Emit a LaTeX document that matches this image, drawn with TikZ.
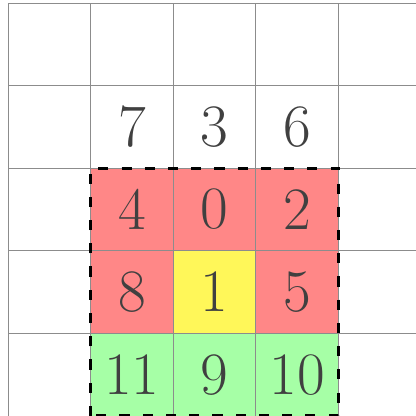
\documentclass[tikz,border=0pt]{standalone}
\usepackage{tikz}
\begin{document}
\begin{tikzpicture}[x=1cm,y=1cm,
  gridline/.style={draw=black!45, line width=0.3pt},
  cellred/.style={fill=red!47},
  cellyellow/.style={fill=yellow!65},
  cellgreen/.style={fill=green!35},
  num/.style={font=\huge, text=black!75, inner sep=0pt},
  frame/.style={draw=black, line width=1.1pt, dash pattern=on 3.5pt off 4.5pt}]
\useasboundingbox (-0.097,0) rectangle (4.933,5.036);
% fills
\fill[cellred] (1,2) rectangle (4,3);
\fill[cellred] (1,1) rectangle (2,2);
\fill[cellyellow] (2,1) rectangle (3,2);
\fill[cellred] (3,1) rectangle (4,2);
\fill[cellgreen] (1,0) rectangle (4,1);
% grid
\draw[gridline] (0,0) grid (5.2,5);
% numbers
\node[num] (n7) at (1.5,3.5) {7};
\node[num] (n3) at (2.5,3.5) {3};
\node[num] (n6) at (3.5,3.5) {6};
\node[num] (n4) at (1.5,2.5) {4};
\node[num] (n0) at (2.5,2.5) {0};
\node[num] (n2) at (3.5,2.5) {2};
\node[num] (n8) at (1.5,1.5) {8};
\node[num] (n1) at (2.5,1.5) {1};
\node[num] (n5) at (3.5,1.5) {5};
\node[num] (n11) at (1.5,0.5) {11};
\node[num] (n9) at (2.5,0.5) {9};
\node[num] (n10) at (3.5,0.5) {10};
% dashed frame
\draw[frame] (1,0) rectangle (4,3);
\end{tikzpicture}
\end{document}
